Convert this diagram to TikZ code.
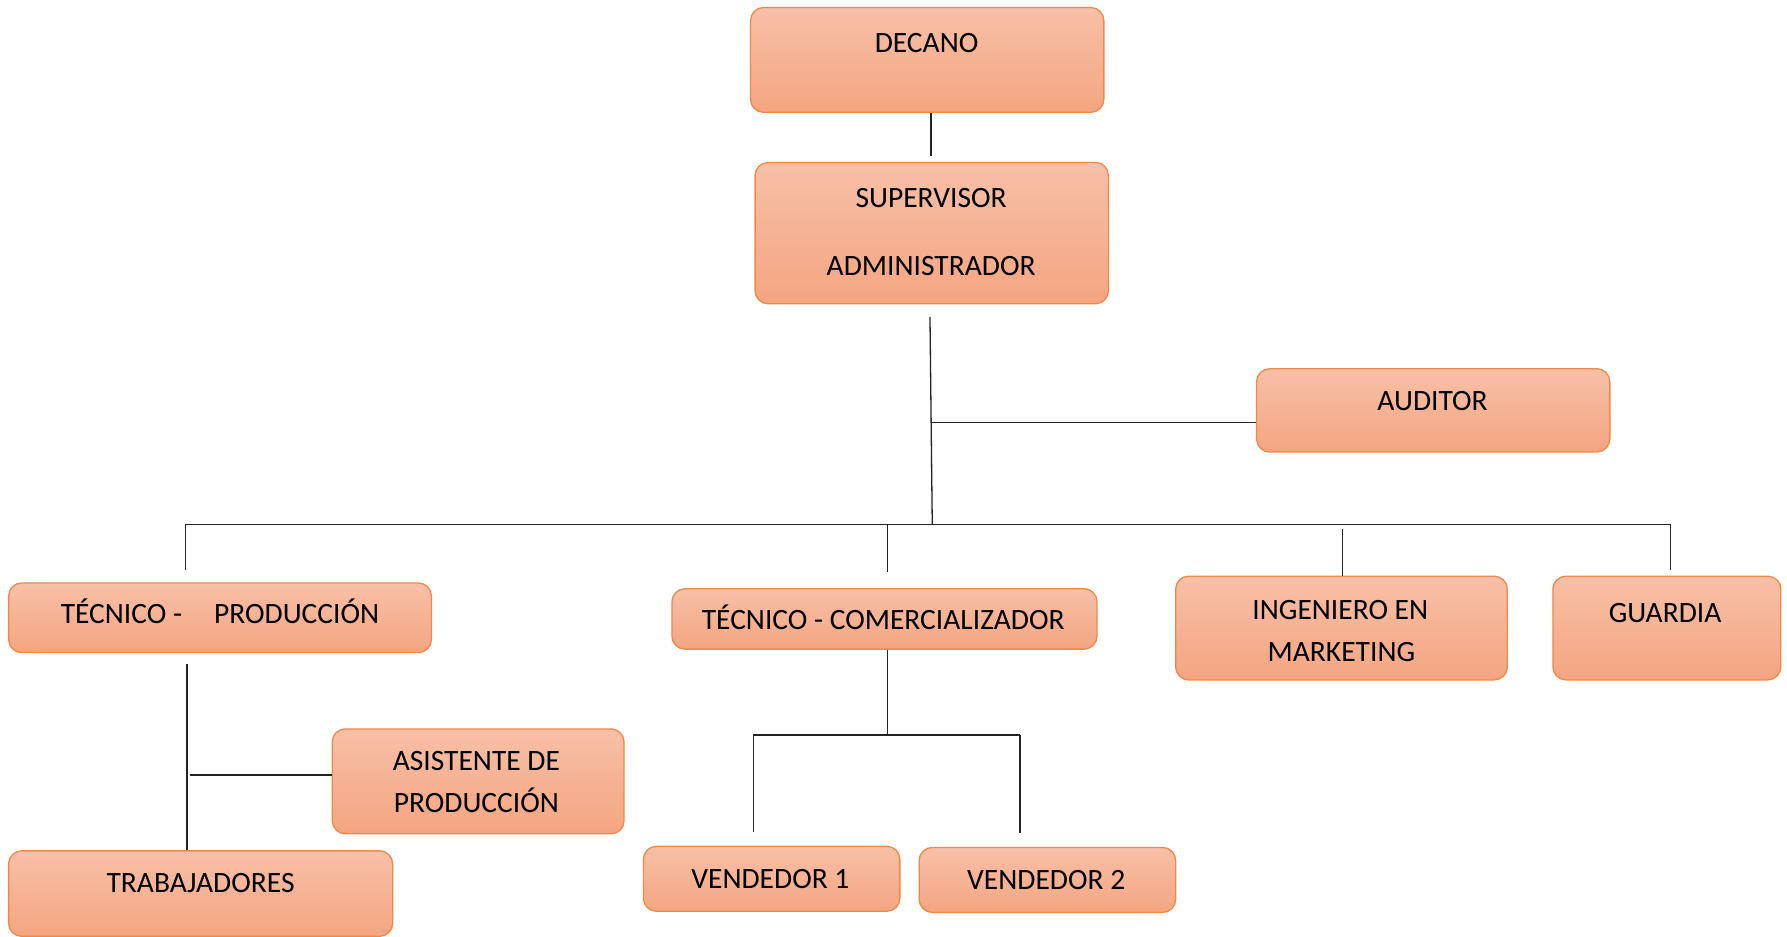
\documentclass[tikz,border=0pt]{standalone}
\usepackage{fontspec}
\setmainfont{Carlito}
\usetikzlibrary{calc}
\definecolor{boxtop}{RGB}{247,192,167}
\definecolor{boxbot}{RGB}{244,165,129}
\definecolor{boxline}{RGB}{240,136,72}
\definecolor{wirecol}{RGB}{35,35,35}
\begin{document}
\begin{tikzpicture}[x=1.1397pt,y=-1.1397pt,
  box/.style={draw=boxline, line width=1.3pt, rounded corners=13pt,
    top color=boxtop, bottom color=boxbot, anchor=north west, inner sep=0pt},
  lbl/.style={font=\fontsize{29.5}{34}\selectfont, text height=19pt,
    text depth=0pt, inner sep=0pt, anchor=center},
  wire/.style={draw=wirecol, line width=1.3pt}]
\useasboundingbox (0,0) rectangle (1568,822);
\newcommand\orgbox[5]{\node[box, minimum width={(#4-#2)*1.1397pt},
  minimum height={(#5-#3)*1.1397pt}] (#1) at (#2,#3) {};}

% boxes
\orgbox{dec}{658}{6}{968}{98}
\orgbox{sup}{662}{142}{972}{266}
\orgbox{aud}{1102}{323}{1412}{396}
\orgbox{tpr}{7}{511}{378}{572}
\orgbox{tco}{589}{516}{962}{569}
\orgbox{ing}{1031}{505}{1322}{596}
\orgbox{gua}{1362}{505}{1562}{596}
\orgbox{asi}{291}{639}{547}{731}
\orgbox{tra}{7}{746}{344}{821}
\orgbox{ve1}{564}{742}{789}{799}
\orgbox{ve2}{806}{743}{1031}{800}

% labels
\node[lbl] (decT) at (813,38) {DECANO};
\node[lbl] (supT1) at (817,174) {SUPERVISOR};
\node[lbl] (supT2) at (817,233) {ADMINISTRADOR};
\node[lbl] (audT) at (1257,352) {AUDITOR};
\node[lbl] (tprT) at (193,539) {TÉCNICO -\hspace{32pt}PRODUCCIÓN};
\node[lbl] (tcoT) at (775,544) {TÉCNICO - COMERCIALIZADOR};
\node[lbl] (ingT1) at (1176,535) {INGENIERO EN};
\node[lbl] (ingT2) at (1177,572) {MARKETING};
\node[lbl] (guaT) at (1461,538) {GUARDIA};
\node[lbl] (asiT1) at (418,668) {ASISTENTE DE};
\node[lbl] (asiT2) at (418,705) {PRODUCCIÓN};
\node[lbl] (traT) at (176,775) {TRABAJADORES};
\node[lbl] (ve1T) at (676,771) {VENDEDOR 1};
\node[lbl] (ve2T) at (918,772) {VENDEDOR 2};

% junction points
\coordinate (d0) at (817,137);
\coordinate (s0) at (816,278);
\coordinate (hub) at (818,460);
\coordinate (a0) at (817,371);
\coordinate (busL) at (163,460);
\coordinate (busR) at (1466,460);
\coordinate (dTP) at (163,500);
\coordinate (jTC) at (779,460);
\coordinate (dTC) at (779,502);
\coordinate (jIN) at (1178,464);
\coordinate (dGU) at (1466,500);
\coordinate (p0) at (164,583);
\coordinate (p1) at (167,680);
\coordinate (c0) at (779,645);
\coordinate (vL) at (661,645);
\coordinate (vR) at (895,645);
\coordinate (vL1) at (661,730);
\coordinate (vR1) at (895,731);

% connectors
\draw[wire] (dec.south -| d0) -- (d0);
\draw[wire] (s0) -- (hub);
\draw[wire] (a0) -- (a0 -| aud.west);
\draw[wire] (busL) -- (busR);
\draw[wire] (busL) -- (dTP);
\draw[wire] (jTC) -- (dTC);
\draw[wire] (jIN) -- (jIN |- ing.north);
\draw[wire] (busR) -- (dGU);
\draw[wire] (p0) -- (p0 |- tra.north);
\draw[wire] (p1) -- (p1 -| asi.west);
\draw[wire] (tco.south -| c0) -- (c0);
\draw[wire] (vL) -- (vR);
\draw[wire] (vL) -- (vL1);
\draw[wire] (vR) -- (vR1);
\end{tikzpicture}
\end{document}
